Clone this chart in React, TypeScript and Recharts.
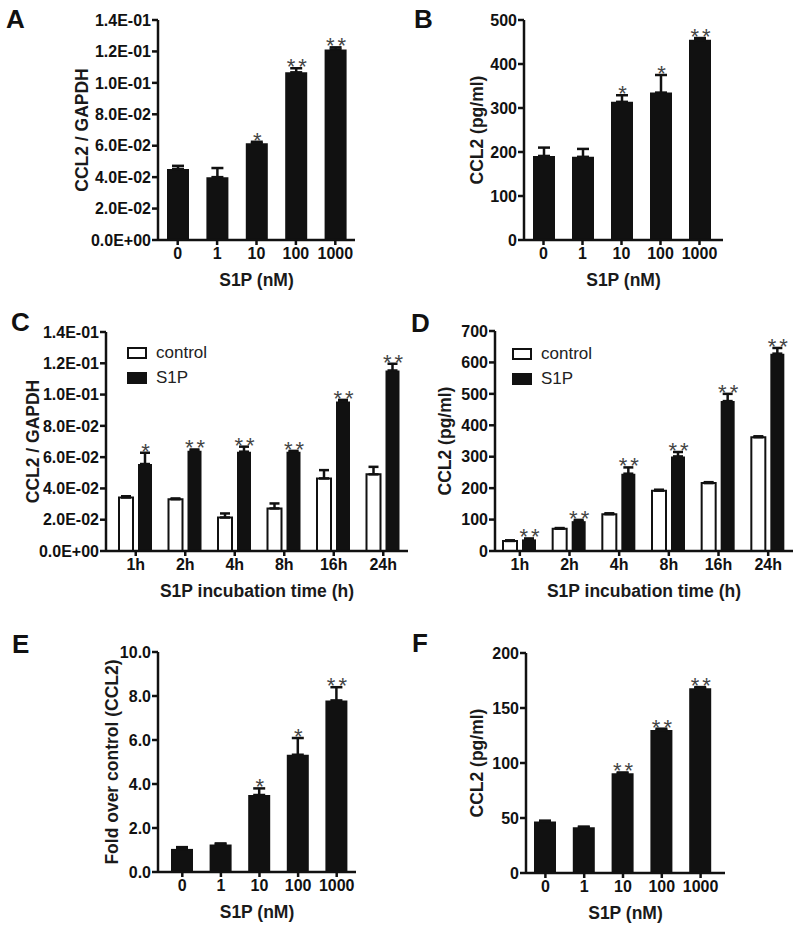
import { BarChart, Bar, XAxis, YAxis, ErrorBar, LabelList, Label } from 'recharts'

const FONT = '"Liberation Sans", Arial, Helvetica, sans-serif'
const INK = '#111'
const STAR = '#444'

const doseLabels = ['0', '1', '10', '100', '1000']
const timeLabels = ['1h', '2h', '4h', '8h', '16h', '24h']
const groupNames = ['control', 'S1P']
const groupFills = ['#fff', INK]

// A - CCL2 mRNA vs dose
const mrnaDose = [0.0452, 0.04, 0.0615, 0.1067, 0.1213]
const mrnaDoseErr = [0.002, 0.0058, 0.001, 0.0026, 0.0013]
const mrnaDoseSig = ['', '', '*', '**', '**']

// B - CCL2 protein vs dose
const protDose = [191, 189, 314, 335, 455]
const protDoseErr = [19, 18, 15, 40, 4]
const protDoseSig = ['', '', '*', '*', '**']

// C - CCL2 mRNA time course
const mrnaCtrl = [0.0342, 0.0331, 0.0214, 0.0272, 0.0464, 0.049]
const mrnaCtrlErr = [0.0008, 0.0005, 0.0026, 0.0032, 0.0053, 0.0048]
const mrnaS1P = [0.0556, 0.0641, 0.0635, 0.0635, 0.0955, 0.1154]
const mrnaS1PErr = [0.0072, 0.0008, 0.0032, 0.0005, 0.0011, 0.0043]
const mrnaS1PSig = ['*', '**', '**', '**', '**', '**']

// D - CCL2 protein time course
const protCtrl = [32, 71, 117, 192, 216, 362]
const protCtrlErr = [2, 2, 3, 3, 3, 3]
const protS1P = [37, 95, 246, 301, 477, 628]
const protS1PErr = [3, 4, 20, 14, 23, 18]
const protS1PSig = ['**', '**', '**', '**', '**', '**']

// E - fold over control
const foldDose = [1.05, 1.25, 3.5, 5.33, 7.8]
const foldDoseErr = [0.08, 0.05, 0.3, 0.76, 0.6]
const foldDoseSig = ['', '', '*', '*', '**']

// F - CCL2 protein vs dose (second cell type)
const prot2Dose = [46.8, 41.5, 90.6, 130, 168]
const prot2DoseErr = [0.8, 0.7, 0.8, 1.2, 1]
const prot2DoseSig = ['', '', '**', '**', '**']

function sci(v: number): string {
  const [m, e] = v.toExponential(1).split('e')
  const n = parseInt(e, 10)
  return `${m}E${n < 0 ? '-' : '+'}${String(Math.abs(n)).padStart(2, '0')}`
}

const tickStyle = { fill: INK, fontSize: 16, fontWeight: 700, fontFamily: FONT }
const titleStyle = { fill: '#1a1a1a', fontSize: 17.5, fontWeight: 700, fontFamily: FONT }

function starLabel(vals: number[], errs: number[]) {
  return (props: any) => {
    const { index, value } = props
    if (!value) return null
    const box = props.viewBox ?? props
    const x = Number(box.x)
    const y = Number(box.y)
    const w = Number(box.width)
    const h = Math.abs(Number(box.height))
    const errTop = y - errs[index] * (h / vals[index])
    return (
      <text x={x + w / 2 + 2} y={errTop + 6} textAnchor="middle" fontSize={22}
        fill={STAR} letterSpacing={3} fontFamily={FONT}>{value}</text>
    )
  }
}

function yTitle(text: string, dist: number) {
  return (props: any) => {
    const vb = props.viewBox
    const cx = vb.x + vb.width - dist
    const cy = vb.y + vb.height / 2
    return (
      <text x={cx} y={cy} transform={`rotate(-90 ${cx} ${cy})`} textAnchor="middle"
        dominantBaseline="central" {...titleStyle}>{text}</text>
    )
  }
}

function xTitle(text: string) {
  return (props: any) => {
    const vb = props.viewBox
    return (
      <text x={vb.x + vb.width / 2} y={vb.y + 46} textAnchor="middle" {...titleStyle}>{text}</text>
    )
  }
}

interface PanelProps {
  left: number
  top: number
  width: number
  height: number
  yw: number
  mt: number
  mr: number
  xh: number
  domain: [number, number]
  ticks: number[]
  fmt: (v: number) => string
  yLabel: string
  yDist: number
  xLabel: string
  padL?: number
  padR?: number
}

function DosePanel(p: PanelProps & { vals: number[]; errs: number[]; sig: string[] }) {
  const data = doseLabels.map((c, i) => ({ cat: c, v: p.vals[i], e: [0, p.errs[i]], s: p.sig[i] }))
  return (
    <div style={{ position: 'absolute', left: p.left, top: p.top }}>
      <BarChart width={p.width} height={p.height} data={data}
        margin={{ top: p.mt, right: p.mr, left: 0, bottom: 0 }}>
        <XAxis dataKey="cat" height={p.xh} tick={tickStyle} tickSize={5} tickMargin={3}
          axisLine={{ stroke: INK, strokeWidth: 2.5 }} tickLine={{ stroke: INK, strokeWidth: 2.5 }}
          padding={{ left: p.padL ?? 0, right: p.padR ?? 0 }}>
          <Label content={xTitle(p.xLabel)} />
        </XAxis>
        <YAxis width={p.yw} domain={p.domain} ticks={p.ticks} tickFormatter={p.fmt} interval={0}
          tick={tickStyle} tickSize={6} tickMargin={1}
          axisLine={{ stroke: INK, strokeWidth: 2.5 }} tickLine={{ stroke: INK, strokeWidth: 2.5 }}>
          <Label content={yTitle(p.yLabel, p.yDist)} />
        </YAxis>
        <Bar dataKey="v" fill={INK} barSize={22} isAnimationActive={false}>
          <ErrorBar dataKey="e" width={6} strokeWidth={2.5} stroke={INK} direction="y" isAnimationActive={false} />
          <LabelList dataKey="s" content={starLabel(p.vals, p.errs)} />
        </Bar>
      </BarChart>
    </div>
  )
}

function TimePanel(p: PanelProps & {
  ctrl: number[]; ctrlErr: number[]; s1p: number[]; s1pErr: number[]; sig: string[]
  legLeft: number; legTop: number
}) {
  const data = timeLabels.map((c, i) => ({
    cat: c, ctrl: p.ctrl[i], ctrlE: [0, p.ctrlErr[i]], s1p: p.s1p[i], s1pE: [0, p.s1pErr[i]], s: p.sig[i],
  }))
  return (
    <div style={{ position: 'absolute', left: p.left, top: p.top, width: p.width, height: p.height }}>
      <BarChart width={p.width} height={p.height} data={data} barGap={5}
        margin={{ top: p.mt, right: p.mr, left: 0, bottom: 0 }}>
        <XAxis dataKey="cat" height={p.xh} tick={tickStyle} tickSize={5} tickMargin={3}
          axisLine={{ stroke: INK, strokeWidth: 2.5 }} tickLine={{ stroke: INK, strokeWidth: 2.5 }}
          padding={{ left: p.padL ?? 0, right: p.padR ?? 0 }}>
          <Label content={xTitle(p.xLabel)} />
        </XAxis>
        <YAxis width={p.yw} domain={p.domain} ticks={p.ticks} tickFormatter={p.fmt} interval={0}
          tick={tickStyle} tickSize={6} tickMargin={1}
          axisLine={{ stroke: INK, strokeWidth: 2.5 }} tickLine={{ stroke: INK, strokeWidth: 2.5 }}>
          <Label content={yTitle(p.yLabel, p.yDist)} />
        </YAxis>
        <Bar dataKey="ctrl" name={groupNames[0]} fill={groupFills[0]} stroke={INK} strokeWidth={2}
          barSize={14} isAnimationActive={false}>
          <ErrorBar dataKey="ctrlE" width={5} strokeWidth={2.5} stroke={INK} direction="y" isAnimationActive={false} />
        </Bar>
        <Bar dataKey="s1p" name={groupNames[1]} fill={groupFills[1]} barSize={14} isAnimationActive={false}>
          <ErrorBar dataKey="s1pE" width={5} strokeWidth={2.5} stroke={INK} direction="y" isAnimationActive={false} />
          <LabelList dataKey="s" content={starLabel(p.s1p, p.s1pErr)} />
        </Bar>
      </BarChart>
      <div style={{ position: 'absolute', left: p.legLeft, top: p.legTop, fontFamily: FONT }}>
        {groupNames.map((n, i) => (
          <div key={n} style={{ display: 'flex', alignItems: 'center', height: 25 }}>
            <div style={{
              width: 16, height: 8, border: `2px solid ${INK}`, background: groupFills[i], marginRight: 9,
            }} />
            <span style={{ fontSize: 17, color: '#222' }}>{n}</span>
          </div>
        ))}
      </div>
    </div>
  )
}

const letters = [
  { t: 'A', x: 6, y: 28 },
  { t: 'B', x: 414, y: 28 },
  { t: 'C', x: 11, y: 331 },
  { t: 'D', x: 411, y: 332 },
  { t: 'E', x: 12, y: 653 },
  { t: 'F', x: 412, y: 652 },
]

export default function App() {
  return (
    <div style={{ position: 'absolute', left: 0, top: 0, width: 800, height: 928, background: '#fff' }}>
      <DosePanel left={0} top={0} width={400} height={300} yw={158} mt={20} mr={45} xh={60}
        domain={[0, 0.14]} ticks={[0, 0.02, 0.04, 0.06, 0.08, 0.1, 0.12, 0.14]} fmt={sci}
        yLabel="CCL2 / GAPDH" yDist={76} xLabel="S1P (nM)"
        vals={mrnaDose} errs={mrnaDoseErr} sig={mrnaDoseSig} />
      <DosePanel left={400} top={0} width={400} height={300} yw={124} mt={20} mr={77} xh={60}
        domain={[0, 500]} ticks={[0, 100, 200, 300, 400, 500]} fmt={(v) => String(v)}
        yLabel="CCL2 (pg/ml)" yDist={47} xLabel="S1P (nM)" padR={4}
        vals={protDose} errs={protDoseErr} sig={protDoseSig} />
      <TimePanel left={0} top={300} width={410} height={320} yw={106} mt={32} mr={2} xh={69}
        domain={[0, 0.14]} ticks={[0, 0.02, 0.04, 0.06, 0.08, 0.1, 0.12, 0.14]} fmt={sci}
        yLabel="CCL2 / GAPDH" yDist={73} xLabel="S1P incubation time (h)" padL={5}
        ctrl={mrnaCtrl} ctrlErr={mrnaCtrlErr} s1p={mrnaS1P} s1pErr={mrnaS1PErr} sig={mrnaS1PSig}
        legLeft={127} legTop={40} />
      <TimePanel left={410} top={300} width={390} height={320} yw={85} mt={31} mr={7} xh={69}
        domain={[0, 700]} ticks={[0, 100, 200, 300, 400, 500, 600, 700]} fmt={(v) => String(v)}
        yLabel="CCL2 (pg/ml)" yDist={50} xLabel="S1P incubation time (h)"
        ctrl={protCtrl} ctrlErr={protCtrlErr} s1p={protS1P} s1pErr={protS1PErr} sig={protS1PSig}
        legLeft={102} legTop={41} />
      <DosePanel left={0} top={620} width={400} height={308} yw={158} mt={32} mr={44} xh={56}
        domain={[0, 10]} ticks={[0, 2, 4, 6, 8, 10]} fmt={(v) => v.toFixed(1)}
        yLabel="Fold over control (CCL2)" yDist={46} xLabel="S1P (nM)" padL={5}
        vals={foldDose} errs={foldDoseErr} sig={foldDoseSig} />
      <DosePanel left={400} top={620} width={400} height={308} yw={126} mt={33} mr={75} xh={55}
        domain={[0, 200]} ticks={[0, 50, 100, 150, 200]} fmt={(v) => String(v)}
        yLabel="CCL2 (pg/ml)" yDist={49} xLabel="S1P (nM)" padR={5}
        vals={prot2Dose} errs={prot2DoseErr} sig={prot2DoseSig} />
      <svg width={800} height={928} style={{ position: 'absolute', left: 0, top: 0, pointerEvents: 'none' }}>
        {letters.map((l) => (
          <text key={l.t} x={l.x} y={l.y} fontSize={26} fontWeight={700} fontFamily={FONT} fill={INK}>{l.t}</text>
        ))}
      </svg>
    </div>
  )
}
